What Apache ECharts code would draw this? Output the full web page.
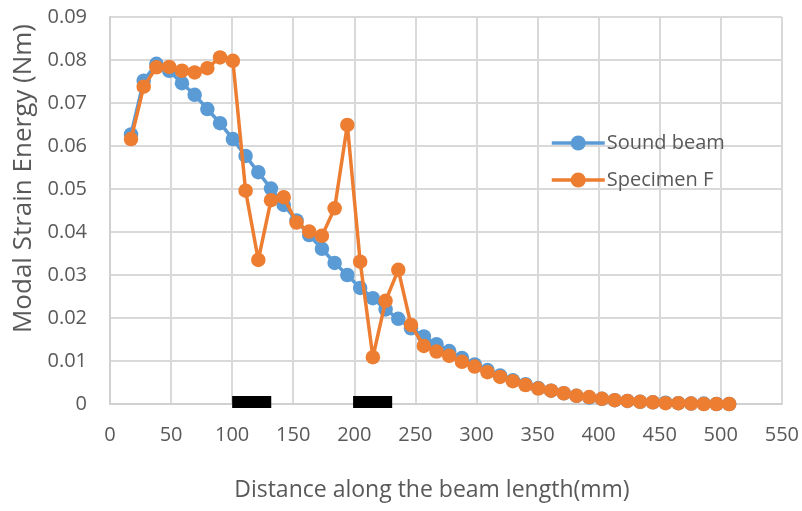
<!DOCTYPE html>
<html>
<head>
<meta charset="utf-8">
<script src="https://cdn.jsdelivr.net/npm/echarts@6/dist/echarts.min.js"></script>
<style>
html,body{margin:0;padding:0;background:#fff;}
#chart{width:802px;height:511px;}
</style>
</head>
<body>
<div id="chart"></div>
<script>
// Distance along the beam (mm) for each measurement point
const xValues = [17.2, 27.6, 38.0, 48.5, 58.9, 69.3, 79.7, 90.1, 100.6, 111.0,
  121.4, 131.8, 142.2, 152.7, 163.1, 173.5, 183.9, 194.3, 204.8, 215.2,
  225.6, 236.0, 246.4, 256.9, 267.3, 277.7, 288.1, 298.5, 309.0, 319.4,
  329.8, 340.2, 350.6, 361.1, 371.5, 381.9, 392.3, 402.7, 413.2, 423.6,
  434.0, 444.4, 454.8, 465.3, 475.7, 486.1, 496.5, 506.9];

const soundBeam = [0.0627, 0.0752, 0.0791, 0.0775, 0.0746, 0.0719, 0.0686, 0.0653, 0.0616, 0.0577,
  0.0539, 0.0501, 0.0463, 0.0427, 0.0393, 0.0361, 0.0328, 0.0300, 0.0270, 0.0246,
  0.0220, 0.0198, 0.0176, 0.0157, 0.0139, 0.0123, 0.0107, 0.0092, 0.0079, 0.0066,
  0.0055, 0.0046, 0.0037, 0.0031, 0.0025, 0.0019, 0.0015, 0.0012, 0.0009, 0.0007,
  0.0005, 0.0004, 0.0003, 0.0002, 0.0001, 0.0001, 0.0000, 0.0000];

const specimenF = [0.0616, 0.0738, 0.0783, 0.0784, 0.0775, 0.0771, 0.0781, 0.0806, 0.0798, 0.0496,
  0.0335, 0.0474, 0.0481, 0.0422, 0.0401, 0.0391, 0.0455, 0.0649, 0.0331, 0.0109,
  0.0240, 0.0312, 0.0184, 0.0135, 0.0122, 0.0112, 0.0098, 0.0087, 0.0074, 0.0063,
  0.0053, 0.0044, 0.0036, 0.0031, 0.0025, 0.0019, 0.0016, 0.0012, 0.0009, 0.0007,
  0.0005, 0.0004, 0.0002, 0.0002, 0.0001, 0.0000, 0.0000, 0.0000];

// Damage zones marked on the beam axis (start mm, end mm)
const damageZones = [[100, 132], [199, 231]];

const seriesNames = ['Sound beam', 'Specimen F'];
const xAxisTitle = 'Distance along the beam length(mm)';
const yAxisTitle = 'Modal Strain Energy (Nm)';

const FONT = 'Open Sans';
const TXT = '#595959';

const pair = (ys) => xValues.map((x, i) => [x, ys[i]]);

const chart = echarts.init(document.getElementById('chart'), null, {renderer: 'canvas'});
chart.setOption({
  animation: false,
  backgroundColor: '#ffffff',
  textStyle: {fontFamily: FONT},
  grid: {left: 110, right: 20, top: 17, bottom: 107, containLabel: false},
  legend: {
    data: seriesNames,
    orient: 'vertical',
    left: 545,
    top: 128,
    itemWidth: 53,
    itemHeight: 19,
    itemGap: 17,
    lineStyle: {width: 3.5},
    textStyle: {fontFamily: FONT, fontSize: 20, color: TXT, padding: [0, 0, 0, -3]}
  },
  xAxis: {
    type: 'value',
    min: 0, max: 550, interval: 50,
    name: xAxisTitle,
    nameLocation: 'middle',
    nameGap: 75,
    nameTextStyle: {fontFamily: FONT, fontSize: 23, color: TXT, padding: [0, 28, 0, 0]},
    axisLine: {show: true, lineStyle: {color: '#d0d0d0', width: 2}},
    axisTick: {show: false},
    axisLabel: {fontFamily: FONT, fontSize: 20, color: TXT, margin: 21},
    splitLine: {show: true, lineStyle: {color: '#d9d9d9', width: 2}}
  },
  yAxis: {
    type: 'value',
    min: 0, max: 0.09, interval: 0.01,
    name: yAxisTitle,
    nameLocation: 'middle',
    nameGap: 73,
    nameRotate: 90,
    nameTextStyle: {fontFamily: FONT, fontSize: 26, color: TXT, padding: [0, 0, 0, 64]},
    axisLine: {show: true, lineStyle: {color: '#d0d0d0', width: 2}},
    axisTick: {show: false},
    axisLabel: {fontFamily: FONT, fontSize: 20, color: TXT, margin: 23,
      formatter: (v) => v === 0 ? '0' : v.toFixed(2)},
    splitLine: {show: true, lineStyle: {color: '#d9d9d9', width: 2}}
  },
  series: [
    {
      name: seriesNames[0], type: 'line', data: pair(soundBeam),
      symbol: 'circle', symbolSize: 14.5, showSymbol: true,
      lineStyle: {color: '#5B9BD5', width: 3.5},
      itemStyle: {color: '#5B9BD5', borderWidth: 0},
      z: 3
    },
    {
      name: seriesNames[1], type: 'line', data: pair(specimenF),
      symbol: 'circle', symbolSize: 14.5, showSymbol: true,
      lineStyle: {color: '#ED7D31', width: 3.5},
      itemStyle: {color: '#ED7D31', borderWidth: 0},
      z: 4
    },
    {
      name: 'Damage', type: 'custom', data: damageZones,
      encode: {x: [0, 1]},
      clip: false, silent: true, z: 5,
      renderItem: (params, api) => {
        const s = api.coord([api.value(0), 0]);
        const e = api.coord([api.value(1), 0]);
        return {type: 'rect', shape: {x: s[0], y: s[1] - 8, width: e[0] - s[0], height: 12},
          style: {fill: '#000000'}};
      }
    }
  ]
});
</script>
</body>
</html>
